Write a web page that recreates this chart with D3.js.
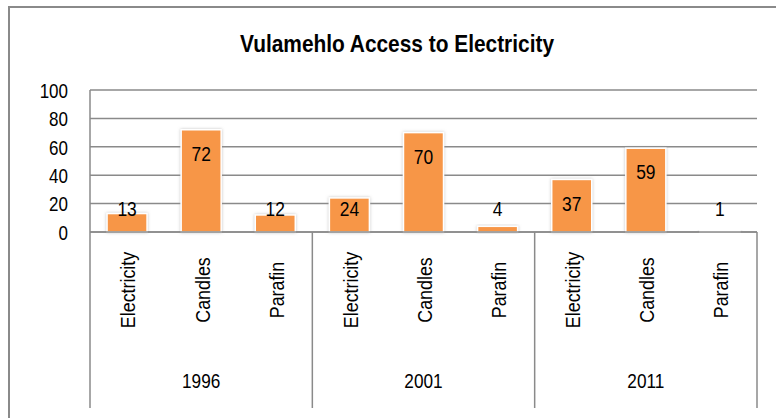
<!DOCTYPE html>
<html>
<head>
<meta charset="utf-8">
<script src="https://cdn.jsdelivr.net/npm/d3@7"></script>
<style>
  html, body { margin: 0; padding: 0; background: #fff; }
  svg { display: block; }
  text { font-family: "Liberation Sans", Arial, sans-serif; fill: #000; }
</style>
</head>
<body>
<svg id="chart" width="776" height="418"></svg>
<script>
// Household energy source for lighting, Vulamehlo (percent of households)
const years = ["1996", "2001", "2011"];
const sources = ["Electricity", "Candles", "Parafin"];
const values1996 = [13, 72, 12];
const values2001 = [24, 70, 4];
const values2011 = [37, 59, 1];
const yTicks = [0, 20, 40, 60, 80, 100];
const title = "Vulamehlo Access to Electricity";

const seriesByYear = [values1996, values2001, values2011];
const rows = [];
years.forEach((yr, i) => {
  sources.forEach((s, j) => rows.push({ year: yr, source: s, value: seriesByYear[i][j] }));
});

// narrow typeface look: horizontally condensed text
const NARROW = 0.85;

const svg = d3.select("#chart");
const plot = { left: 90, right: 757, top: 90, bottom: 232, axisBottom: 408 };
const gridColor = "#8a8a8a";

// chart frame
svg.append("rect")
  .attr("x", 9).attr("y", 7).attr("width", 820).attr("height", 500)
  .attr("fill", "#fff").attr("stroke", gridColor).attr("stroke-width", 2);

svg.append("text")
  .attr("transform", "translate(397,52) scale(0.87,1)")
  .attr("text-anchor", "middle")
  .style("font-size", "24px").style("font-weight", "bold")
  .text(title);

const y = d3.scaleLinear().domain([0, 100]).range([plot.bottom, plot.top]);
const xYear = d3.scaleBand().domain(years).range([plot.left, plot.right]).padding(0);
const xSource = d3.scaleBand().domain(sources).range([0, xYear.bandwidth()])
  .paddingInner(0.46).paddingOuter(0.23);

// gridlines
svg.append("g").selectAll("line").data(yTicks).join("line")
  .attr("x1", plot.left).attr("x2", plot.right)
  .attr("y1", d => y(d)).attr("y2", d => y(d))
  .attr("stroke", gridColor).attr("stroke-width", 1.5);

// y tick labels
const yAxis = d3.axisLeft(y).tickValues(yTicks).tickSize(0).tickPadding(22);
const yg = svg.append("g").attr("transform", `translate(${plot.left},0)`).call(yAxis);
yg.select(".domain").remove();
yg.selectAll("text")
  .attr("x", 0).attr("dy", "0.36em")
  .attr("transform", `translate(-22,0) scale(${NARROW},1)`)
  .style("font-size", "20px").style("font-family", null);

// category axis frame: left axis, group separators, right edge
svg.append("line")
  .attr("x1", plot.left).attr("x2", plot.left)
  .attr("y1", plot.top).attr("y2", plot.axisBottom)
  .attr("stroke", gridColor).attr("stroke-width", 1.5);
const edges = years.map(yr => xYear(yr) + xYear.bandwidth());
svg.append("g").selectAll("line").data(edges).join("line")
  .attr("x1", d => d).attr("x2", d => d)
  .attr("y1", plot.bottom).attr("y2", plot.axisBottom)
  .attr("stroke", gridColor).attr("stroke-width", 1.5);

// bars with soft shadow
const defs = svg.append("defs");
const f = defs.append("filter").attr("id", "shade")
  .attr("x", "-30%").attr("y", "-30%").attr("width", "160%").attr("height", "160%");
f.append("feDropShadow").attr("dx", 0).attr("dy", 0).attr("stdDeviation", 1.6)
  .attr("flood-color", "#9a9a9a").attr("flood-opacity", 0.6);

const bx = d => xYear(d.year) + xSource(d.source);
svg.append("g").selectAll("rect").data(rows.filter(d => d.value > 0)).join("rect")
  .attr("x", bx)
  .attr("y", d => y(d.value))
  .attr("width", xSource.bandwidth())
  .attr("height", d => y(0) - y(d.value))
  .attr("fill", "#F79646")
  .attr("stroke", "#fff").attr("stroke-width", 1.5)
  .attr("filter", "url(#shade)");

// redraw baseline on top of bars
svg.append("line")
  .attr("x1", plot.left).attr("x2", plot.right)
  .attr("y1", y(0)).attr("y2", y(0))
  .attr("stroke", gridColor).attr("stroke-width", 1.5);

// value labels
svg.append("g").selectAll("text").data(rows).join("text")
  .attr("transform", d =>
    `translate(${bx(d) + xSource.bandwidth() / 2},${Math.min(y(d.value) + 24, 209)}) scale(0.87,1)`)
  .attr("dy", "0.36em")
  .attr("text-anchor", "middle")
  .style("font-size", "20px")
  .text(d => d.value);

// rotated source labels
svg.append("g").selectAll("text").data(rows).join("text")
  .attr("transform", d =>
    `translate(${bx(d) + xSource.bandwidth() / 2 + 1},290) rotate(-90) scale(${NARROW},1)`)
  .attr("dy", "0.35em")
  .attr("text-anchor", "middle")
  .style("font-size", "21px")
  .text(d => d.source);

// year labels
svg.append("g").selectAll("text").data(years).join("text")
  .attr("transform", d => `translate(${xYear(d) + xYear.bandwidth() / 2},388) scale(0.82,1)`)
  .attr("text-anchor", "middle")
  .style("font-size", "21px")
  .text(d => d);
</script>
</body>
</html>
